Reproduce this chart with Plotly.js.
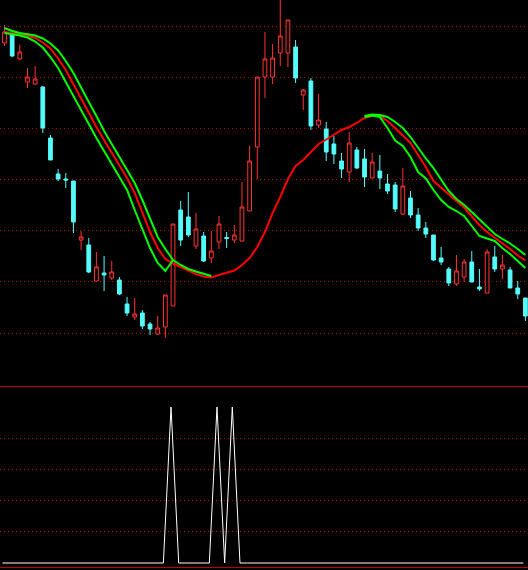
<!DOCTYPE html>
<html>
<head>
<meta charset="utf-8">
<script src="https://cdn.plot.ly/plotly-3.0.1.min.js"></script>
<style>
  html, body { margin: 0; padding: 0; background: #000; }
  #chart { width: 528px; height: 570px; }
</style>
</head>
<body>
<div id="chart"></div>
<script>
// ---- data ----
const bars = Array.from({length: 69}, (_, i) => i);

const openP = [357, 366, 341, 318, 316, 313, 262, 226, 221, 219,
  160, 155, 119, 127, 122, 120, 96, 83, 87, 76,
  66, 73, 94, 190, 183, 154, 164, 142, 158, 162.5,
  160, 159, 189, 253, 323, 323, 347, 347, 353, 305,
  319, 275, 271, 256, 239, 228, 250, 241, 222, 229,
  216, 215, 186, 202, 185, 172, 165, 142, 131, 116,
  123, 138, 113, 107, 143, 131, 130, 112, 102];

const highP = [375, 367, 355, 332, 334, 314, 265, 231, 227, 219,
  169, 162, 148, 144, 139, 123, 103, 102, 90, 78,
  84, 105, 176, 199, 208, 187, 168, 169, 184, 168,
  175, 218, 254, 323, 368, 356, 405, 380, 360, 311,
  322, 306, 278, 264, 247, 268, 253, 251, 247, 245,
  226, 218, 232, 209, 192, 178, 165, 153, 133, 145,
  141, 149, 131, 151, 154, 145, 133, 119, 102];

const lowP = [354, 343, 340, 312, 315, 267, 240, 219, 212, 167,
  150, 127, 119, 109, 120, 105, 84, 80, 71, 65,
  65, 62, 94, 154, 163, 151, 138, 137, 151, 152,
  157, 158.5, 189, 221, 302, 316, 334, 333, 317, 290,
  270, 272, 239, 236, 222, 218, 231, 213, 222, 211,
  206, 188, 185, 182, 169, 162, 139, 135, 114, 114,
  118, 118, 109, 107, 128, 121, 112, 101, 79];

const closeP = [368, 344, 348, 323, 321, 272, 240, 221, 220, 178,
  163, 128, 133, 125, 128, 106, 87, 86, 74, 71,
  72, 105, 176, 160, 165, 171, 139, 149, 176, 161.5,
  165, 193, 239, 323, 341, 342, 364, 380, 322, 310,
  274, 280, 248, 246, 231, 257, 232, 223, 238, 222,
  209, 191, 214, 185, 172, 166, 140, 138, 117, 129,
  138, 118, 111, 148, 131, 135, 112, 106, 84];

const maLine = [368, 367, 365.5, 364.5, 362, 357.5, 351.5, 341.5, 330, 315.5,
  301.5, 288, 273, 260, 247, 234, 222, 207, 188, 168,
  152, 141, 136.5, 133, 129, 126, 123.5, 122.5, 125, 127,
  129.5, 135, 142, 153, 168, 187, 203, 221, 234, 240,
  248, 256, 260.5, 265, 270, 273, 277, 282, 284, 284,
  279, 272, 265, 257, 245, 233, 219, 212, 205, 199,
  192.5, 184, 175, 168, 162.5, 157, 151, 144.5, 139.5];

const bandUpper = [372, 369, 367, 366, 364.5, 361.5, 356.5, 349.5, 339, 327,
  312, 298, 284, 269, 256, 243, 230.5, 217, 200, 181,
  163, 151, 140, 135, 131, 128.5, 126.5, 124, null, null,
  null, null, null, null, null, null, null, null, null, null,
  null, null, null, null, null, null, null, 284, 285.5, 285,
  283, 278, 272, 263, 252, 241.5, 232, 220, 209, 201,
  195, 188, 181, 174, 166, 161, 156.5, 151, 145];

const bandLower = [367, 366, 364.5, 362.5, 358.5, 352.5, 343, 332, 318, 304,
  290, 275, 262, 249, 236, 224, 210, 190, 171, 152,
  137, 129, 140, null, null, null, null, null, null, null,
  null, null, null, null, null, null, null, null, null, null,
  null, null, null, null, null, null, null, 283, 284.5, 283,
  272, 259.5, 254, 243, 228, 221.5, 210, 200, 193, 189,
  184, 174, 164, 161.5, 159, 152, 146, 139, 132];

const signal = [0, 0, 0, 0, 0, 0, 0, 0, 0, 0,
  0, 0, 0, 0, 0, 0, 0, 0, 0, 0,
  0, 0, 5, 0, 0, 0, 0, 0, 5, 0,
  5, 0, 0, 0, 0, 0, 0, 0, 0, 0,
  0, 0, 0, 0, 0, 0, 0, 0, 0, 0,
  0, 0, 0, 0, 0, 0, 0, 0, 0, 0,
  0, 0, 0, 0, 0, 0, 0, 0, 0];

const priceGrid = [67, 118.2, 169.3, 220.5, 271.7, 322.9, 374];
const signalGrid = [1, 2, 3, 4];

// ---- traces ----
const gridColor = '#b40000';
const frameColor = '#c00000';
const traces = [
  {
    type: 'candlestick', x: bars, open: openP, high: highP, low: lowP, close: closeP,
    xaxis: 'x', yaxis: 'y',
    increasing: {line: {color: '#ff3232', width: 1}, fillcolor: '#000000'},
    decreasing: {line: {color: '#54fcfc', width: 1}, fillcolor: '#54fcfc'},
    whiskerwidth: 0, hoverinfo: 'skip'
  },
  {type: 'scatter', mode: 'lines', x: bars, y: maLine, xaxis: 'x', yaxis: 'y',
   line: {color: '#ff0000', width: 2}, hoverinfo: 'skip'},
  {type: 'scatter', mode: 'lines', x: bars, y: bandUpper, xaxis: 'x', yaxis: 'y',
   line: {color: '#00ff00', width: 2}, connectgaps: false, hoverinfo: 'skip'},
  {type: 'scatter', mode: 'lines', x: bars, y: bandLower, xaxis: 'x', yaxis: 'y',
   line: {color: '#00ff00', width: 2}, connectgaps: false, hoverinfo: 'skip'},
  {type: 'scatter', mode: 'lines', x: bars, y: signal, xaxis: 'x2', yaxis: 'y2',
   line: {color: '#ffffff', width: 1}, hoverinfo: 'skip'}
];

const layout = {
  width: 528, height: 570,
  margin: {l: 0, r: 0, t: 0, b: 0, pad: 0},
  paper_bgcolor: '#000000', plot_bgcolor: '#000000',
  showlegend: false, hovermode: false,
  xaxis: {domain: [0, 1], anchor: 'y', range: [-0.587, 68.34],
          showgrid: false, zeroline: false, showticklabels: false, ticks: '',
          showline: false, rangeslider: {visible: false}, fixedrange: true},
  yaxis: {domain: [0.32105, 1], anchor: 'x', range: [13, 400],
          tickmode: 'array', tickvals: priceGrid, showticklabels: false, ticks: '',
          showgrid: true, gridcolor: gridColor, griddash: '1px,3px', gridwidth: 1,
          zeroline: false, showline: false, fixedrange: true},
  xaxis2: {domain: [0, 1], anchor: 'y2', range: [-0.327, 68.6],
           showgrid: false, zeroline: false, showticklabels: false, ticks: '',
           showline: true, linecolor: frameColor, linewidth: 1, mirror: true, fixedrange: true},
  yaxis2: {domain: [0.00526, 0.32105], anchor: 'x2', range: [-0.128, 5.641],
           tickmode: 'array', tickvals: signalGrid, showticklabels: false, ticks: '',
           showgrid: true, gridcolor: gridColor, griddash: '1px,3px', gridwidth: 1,
           zeroline: false, showline: false, fixedrange: true}
};

Plotly.newPlot('chart', traces, layout, {staticPlot: true, displayModeBar: false});
</script>
</body>
</html>
